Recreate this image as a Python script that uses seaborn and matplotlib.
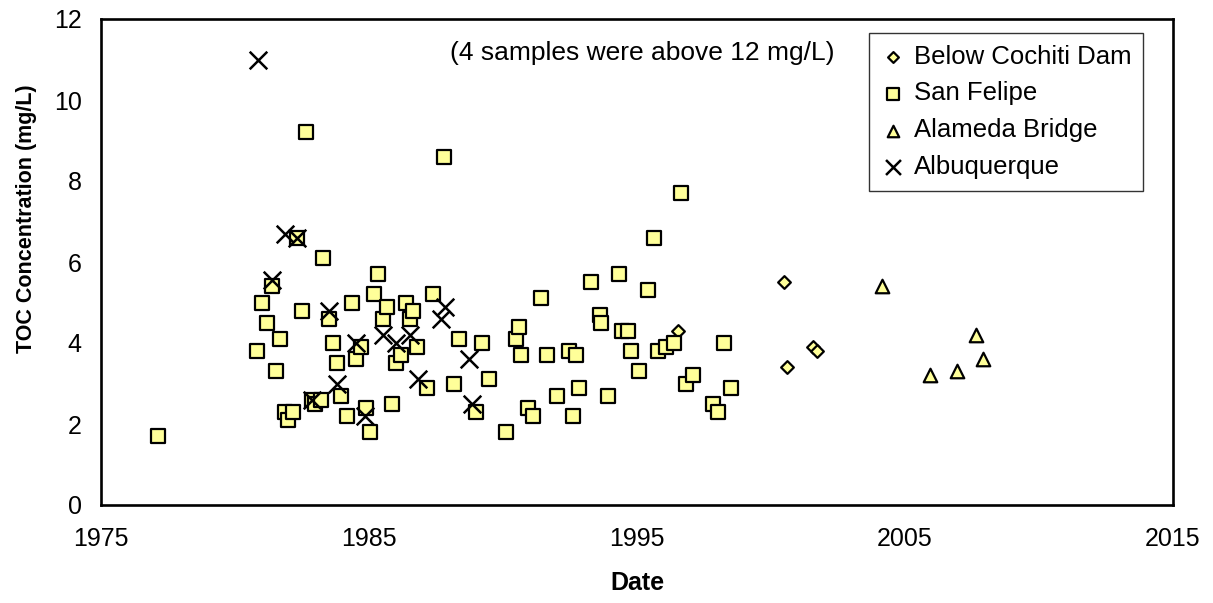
import matplotlib
matplotlib.use("Agg")
import matplotlib.pyplot as plt
import seaborn as sns
import pandas as pd
from matplotlib.ticker import MultipleLocator

# ---- data ----
cochiti_year = [1996.54, 2000.50, 2000.60, 2001.55, 2001.70]
cochiti_toc = [4.3, 5.5, 3.4, 3.9, 3.8]

sanfelipe_year = [
    1977.14, 1980.83, 1981.00, 1981.18, 1981.37, 1981.53, 1981.68, 1981.87, 1981.99, 1982.18,
    1982.33, 1982.50, 1982.65, 1982.86, 1983.00, 1983.20, 1983.30, 1983.50, 1983.64, 1983.79,
    1983.95, 1984.19, 1984.35, 1984.50, 1984.70, 1984.89, 1985.04, 1985.19, 1985.35, 1985.51,
    1985.68, 1985.84, 1986.00, 1986.18, 1986.38, 1986.53, 1986.63, 1986.80, 1987.15, 1987.40,
    1987.81, 1988.17, 1988.34, 1989.00, 1989.20, 1989.48, 1990.13, 1990.47, 1990.58, 1990.67,
    1990.94, 1991.13, 1991.42, 1991.65, 1992.00, 1992.47, 1992.60, 1992.71, 1992.85, 1993.28,
    1993.62, 1993.66, 1993.90, 1994.33, 1994.43, 1994.68, 1994.76, 1995.07, 1995.40, 1995.64,
    1995.80, 1996.10, 1996.38, 1996.64, 1996.83, 1997.10, 1997.85, 1998.04, 1998.25, 1998.50,
]
sanfelipe_toc = [
    1.7, 3.8, 5.0, 4.5, 5.4, 3.3, 4.1, 2.3, 2.1, 2.3,
    6.6, 4.8, 9.2, 2.6, 2.5, 2.6, 6.1, 4.6, 4.0, 3.5,
    2.7, 2.2, 5.0, 3.6, 3.9, 2.4, 1.8, 5.2, 5.7, 4.6,
    4.9, 2.5, 3.5, 3.7, 5.0, 4.6, 4.8, 3.9, 2.9, 5.2,
    8.6, 3.0, 4.1, 2.3, 4.0, 3.1, 1.8, 4.1, 4.4, 3.7,
    2.4, 2.2, 5.1, 3.7, 2.7, 3.8, 2.2, 3.7, 2.9, 5.5,
    4.7, 4.5, 2.7, 5.7, 4.3, 4.3, 3.8, 3.3, 5.3, 6.6,
    3.8, 3.9, 4.0, 7.7, 3.0, 3.2, 2.5, 2.3, 4.0, 2.9,
]

alameda_year = [2004.13, 2005.93, 2006.93, 2007.64, 2007.92]
alameda_toc = [5.4, 3.2, 3.3, 4.2, 3.6]

albuq_year = [1980.86, 1981.37, 1981.87, 1982.33, 1982.86, 1983.50, 1983.80, 1984.50, 1984.85,
              1985.53, 1985.99, 1986.53, 1986.84, 1987.67, 1987.84, 1988.74, 1988.86]
albuq_toc = [11.0, 5.55, 6.7, 6.6, 2.6, 4.8, 3.0, 4.0, 2.2,
             4.2, 4.0, 4.2, 3.1, 4.6, 4.9, 3.6, 2.5]

series_names = ["Below Cochiti Dam", "San Felipe", "Alameda Bridge", "Albuquerque"]
x_ticks = [1975, 1985, 1995, 2005, 2015]
y_ticks = [0, 2, 4, 6, 8, 10, 12]

# ---- styling ----
sns.set_style("white")
plt.rcParams['font.family'] = ['Liberation Sans', 'DejaVu Sans']
plt.rcParams.update({"text.color": "black", "axes.labelcolor": "black",
                     "xtick.color": "black", "ytick.color": "black"})

FILL = "#FFFF99"

fig = plt.figure(figsize=(12.13, 6.03), dpi=100)
ax = fig.add_axes([101 / 1213, 1 - 505 / 603, (1173 - 101) / 1213, (505 - 19) / 603])

df_c = pd.DataFrame({"Date": cochiti_year, "TOC": cochiti_toc})
df_s = pd.DataFrame({"Date": sanfelipe_year, "TOC": sanfelipe_toc})
df_a = pd.DataFrame({"Date": alameda_year, "TOC": alameda_toc})
df_b = pd.DataFrame({"Date": albuq_year, "TOC": albuq_toc})

sns.scatterplot(data=df_c, x="Date", y="TOC", ax=ax, marker="D", s=42,
                color=FILL, edgecolor="black", linewidth=1.6, label=series_names[0], zorder=3)
sns.scatterplot(data=df_s, x="Date", y="TOC", ax=ax, marker="s", s=88,
                color=FILL, edgecolor="black", linewidth=1.6, label=series_names[1], zorder=3)
sns.scatterplot(data=df_a, x="Date", y="TOC", ax=ax, marker="^", s=95,
                color=FILL, edgecolor="black", linewidth=1.6, label=series_names[2], zorder=3)
sns.scatterplot(data=df_b, x="Date", y="TOC", ax=ax, marker="x", s=160,
                color="black", linewidth=1.8, label=series_names[3], zorder=4)

ax.set_xlim(1975, 2015)
ax.set_ylim(0, 12)
ax.set_xticks(x_ticks)
ax.set_yticks(y_ticks)
ax.xaxis.set_minor_locator(MultipleLocator(2))
ax.yaxis.set_minor_locator(MultipleLocator(0.5))

for sp in ax.spines.values():
    sp.set_visible(True)
    sp.set_linewidth(1.9)
    sp.set_color("black")

ax.tick_params(which="major", direction="inout", length=12, width=1.9, labelsize=18,
               colors="black")
ax.tick_params(axis="x", which="major", pad=10)
ax.tick_params(axis="y", which="major", pad=8)
ax.tick_params(which="minor", direction="in", length=5, width=1.9)
ax.tick_params(top=False, right=False, which="both")

ax.set_xlabel("Date", fontsize=18, fontweight="bold", color="black")
ax.set_ylabel("TOC Concentration (mg/L)", fontsize=15.5, fontweight="bold", color="black")
ax.xaxis.set_label_coords(0.5, (505 - 571) / 486)
ax.yaxis.set_label_coords((37 - 101) / 1072, (505 - 219) / 486)

ax.text((450 - 101) / 1072, (505 - 53) / 486, "(4 samples were above 12 mg/L)",
        transform=ax.transAxes, ha="left", va="center", fontsize=19, color="black")

leg = ax.legend(loc="upper left", bbox_to_anchor=((869 - 101) / 1072, (505 - 33) / 486),
                borderaxespad=0, frameon=True, fancybox=False, fontsize=18.5,
                markerscale=0.85, handlelength=1.0, handletextpad=0.3,
                labelspacing=0.5, borderpad=0.45)
leg.get_frame().set_edgecolor("black")
leg.get_frame().set_linewidth(1.0)
for t in leg.get_texts():
    t.set_color("black")

fig.savefig("out.png", dpi=100, facecolor="white")
